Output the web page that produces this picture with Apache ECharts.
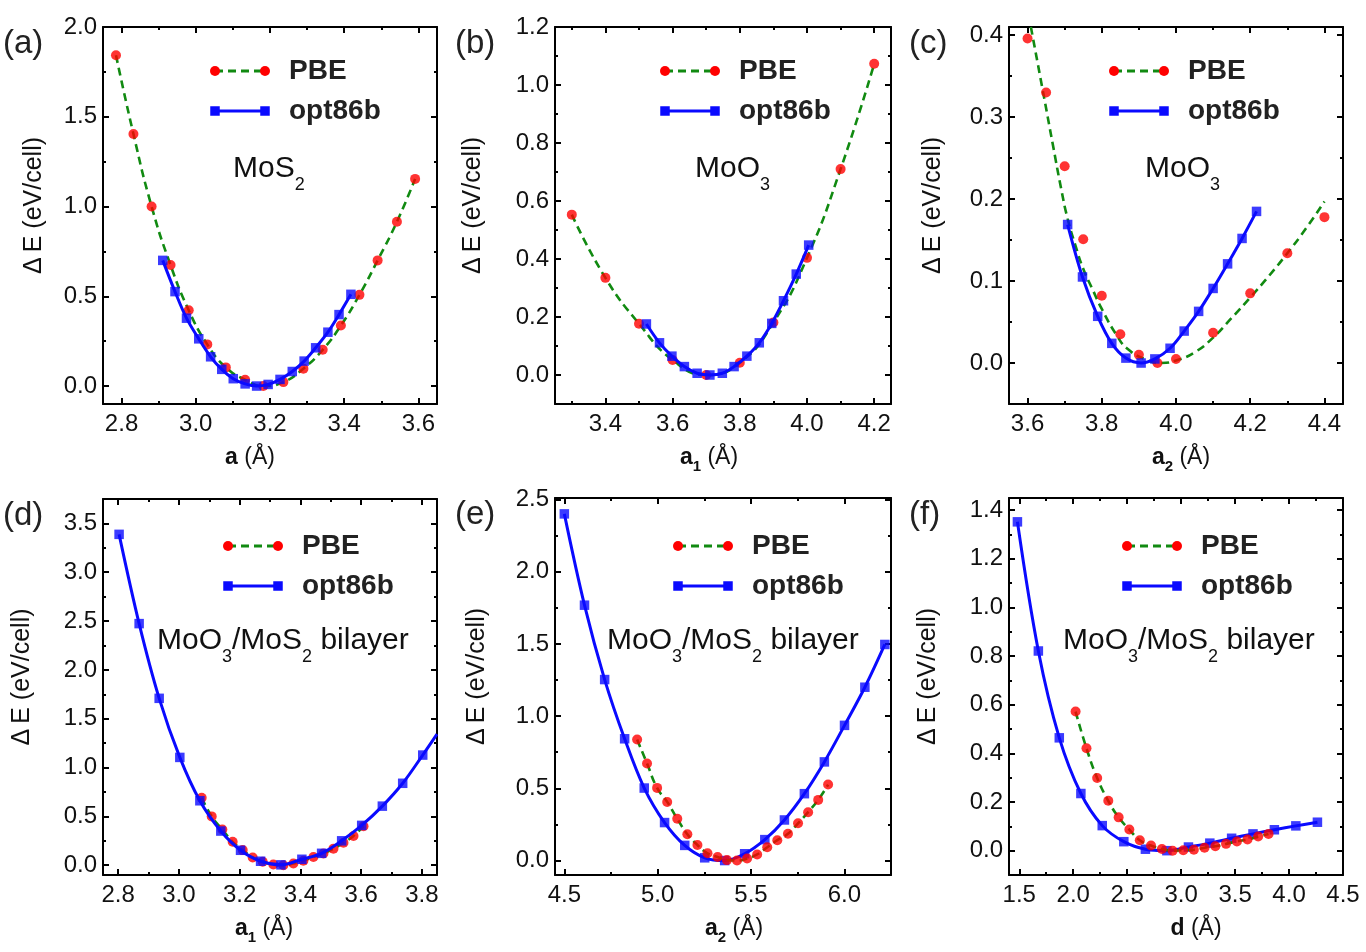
<!DOCTYPE html>
<html>
<head>
<meta charset="utf-8">
<script src="https://cdn.jsdelivr.net/npm/echarts@6/dist/echarts.min.js"></script>
<style>
  html, body { margin: 0; padding: 0; background: #fff; }
  #chart { width: 1366px; height: 952px; }
</style>
</head>
<body>
<div id="chart"></div>
<script>
// values

// (a) MoS2, lattice a
const aPbeX = [2.785, 2.832, 2.881, 2.932, 2.981, 3.031, 3.081, 3.133, 3.182, 3.236, 3.290, 3.342, 3.391, 3.441, 3.490, 3.542, 3.591];
const aPbeY = [1.843, 1.404, 1.0, 0.674, 0.422, 0.232, 0.104, 0.035, 0.0, 0.022, 0.097, 0.202, 0.337, 0.508, 0.70, 0.915, 1.154];
const aOptX = [2.911, 2.944, 2.975, 3.008, 3.04, 3.07, 3.101, 3.133, 3.164, 3.195, 3.227, 3.26, 3.292, 3.323, 3.356, 3.386, 3.418];
const aOptY = [0.70, 0.526, 0.378, 0.263, 0.163, 0.093, 0.041, 0.012, 0.0, 0.009, 0.037, 0.081, 0.139, 0.213, 0.30, 0.398, 0.511];

// (b) MoO3, a1
const bPbeX = [3.30, 3.40, 3.50, 3.60, 3.70, 3.80, 3.90, 4.00, 4.10, 4.20];
const bPbeY = [0.553, 0.335, 0.177, 0.052, 0.0, 0.042, 0.181, 0.404, 0.71, 1.073];
const bOptX = [3.522, 3.561, 3.598, 3.635, 3.673, 3.711, 3.748, 3.783, 3.821, 3.858, 3.895, 3.930, 3.968, 4.005];
const bOptY = [0.176, 0.111, 0.065, 0.029, 0.006, 0.0, 0.006, 0.029, 0.065, 0.111, 0.178, 0.256, 0.348, 0.448];

// (c) MoO3, a2  (dashed PBE fit does not run through the dots here)
const cPbeX = [3.60, 3.65, 3.70, 3.75, 3.80, 3.85, 3.90, 3.95, 4.00, 4.10, 4.20, 4.30, 4.40];
const cPbeY = [0.396, 0.330, 0.240, 0.151, 0.082, 0.035, 0.010, 0.0, 0.005, 0.037, 0.085, 0.134, 0.178];
const cFitX = [3.609, 3.64, 3.67, 3.69, 3.708, 3.73, 3.75, 3.775, 3.80, 3.84, 3.87, 3.92, 3.96, 4.00, 4.05, 4.10, 4.15, 4.20, 4.25, 4.30, 4.35, 4.40];
const cFitY = [0.41, 0.335, 0.262, 0.214, 0.176, 0.142, 0.115, 0.09, 0.066, 0.034, 0.017, 0.004, 0.0, 0.003, 0.013, 0.031, 0.055, 0.08, 0.106, 0.134, 0.164, 0.197];
const cOptX = [3.708, 3.748, 3.789, 3.827, 3.865, 3.906, 3.943, 3.984, 4.022, 4.061, 4.10, 4.139, 4.178, 4.217];
const cOptY = [0.169, 0.105, 0.057, 0.024, 0.006, 0.0, 0.005, 0.018, 0.039, 0.063, 0.091, 0.121, 0.152, 0.185];

// (d) bilayer, a1
const dPbeX = [3.075, 3.108, 3.143, 3.177, 3.21, 3.243, 3.276, 3.311, 3.344, 3.377, 3.41, 3.443, 3.476, 3.509, 3.542, 3.575, 3.608];
const dPbeY = [0.69, 0.50, 0.365, 0.24, 0.155, 0.08, 0.035, 0.008, 0.0, 0.017, 0.045, 0.085, 0.12, 0.17, 0.23, 0.30, 0.40];
const dOptX = [2.803, 2.869, 2.935, 3.003, 3.069, 3.138, 3.203, 3.269, 3.336, 3.405, 3.47, 3.536, 3.602, 3.67, 3.737, 3.803];
const dOptY = [3.388, 2.474, 1.709, 1.104, 0.66, 0.35, 0.153, 0.041, 0.004, 0.061, 0.122, 0.25, 0.408, 0.605, 0.839, 1.128];
const dOptFitX = [...dOptX, 3.85];
const dOptFitY = [...dOptY, 1.342];

// (e) bilayer, a2
const ePbeX = [4.89, 4.943, 4.997, 5.051, 5.105, 5.159, 5.213, 5.267, 5.321, 5.371, 5.425, 5.479, 5.533, 5.587, 5.641, 5.698, 5.752, 5.806, 5.86, 5.913];
const ePbeY = [0.838, 0.672, 0.503, 0.406, 0.289, 0.182, 0.108, 0.05, 0.025, 0.003, 0.0, 0.014, 0.042, 0.092, 0.141, 0.185, 0.258, 0.335, 0.42, 0.526];
const eOptX = [4.50, 4.608, 4.716, 4.823, 4.928, 5.037, 5.145, 5.252, 5.359, 5.466, 5.574, 5.679, 5.786, 5.893, 6.001, 6.11, 6.217];
const eOptY = [2.40, 1.768, 1.253, 0.843, 0.502, 0.263, 0.105, 0.019, 0.0, 0.047, 0.145, 0.281, 0.463, 0.683, 0.936, 1.20, 1.496];

// (f) bilayer, interlayer distance d
const fPbeX = [2.022, 2.123, 2.222, 2.325, 2.421, 2.52, 2.617, 2.721, 2.822, 2.921, 3.02, 3.118, 3.217, 3.317, 3.416, 3.517, 3.615, 3.714, 3.81];
const fPbeY = [0.572, 0.421, 0.299, 0.205, 0.137, 0.087, 0.043, 0.021, 0.007, 0.0, 0.002, 0.004, 0.012, 0.018, 0.028, 0.038, 0.046, 0.058, 0.069];
const fOptX = [1.483, 1.677, 1.871, 2.071, 2.269, 2.469, 2.669, 2.868, 3.068, 3.266, 3.468, 3.666, 3.864, 4.063, 4.263];
const fOptY = [1.352, 0.821, 0.464, 0.235, 0.103, 0.037, 0.006, 0.0, 0.015, 0.031, 0.051, 0.069, 0.086, 0.102, 0.117];

// tick labels / minor tick positions
const aXTicks = [2.8, 3.0, 3.2, 3.4, 3.6];
const aXMinor = [2.9, 3.1, 3.3, 3.5];
const aYTicks = [0.0, 0.5, 1.0, 1.5, 2.0];
const aYMinor = [0.25, 0.75, 1.25, 1.75];
const bXTicks = [3.4, 3.6, 3.8, 4.0, 4.2];
const bXMinor = [3.3, 3.5, 3.7, 3.9, 4.1];
const bYTicks = [0.0, 0.2, 0.4, 0.6, 0.8, 1.0, 1.2];
const bYMinor = [0.1, 0.3, 0.5, 0.7, 0.9, 1.1];
const cXTicks = [3.6, 3.8, 4.0, 4.2, 4.4];
const cXMinor = [3.7, 3.9, 4.1, 4.3];
const cYTicks = [0.0, 0.1, 0.2, 0.3, 0.4];
const cYMinor = [0.05, 0.15, 0.25, 0.35];
const dXTicks = [2.8, 3.0, 3.2, 3.4, 3.6, 3.8];
const dXMinor = [2.9, 3.1, 3.3, 3.5, 3.7];
const dYTicks = [0.0, 0.5, 1.0, 1.5, 2.0, 2.5, 3.0, 3.5];
const dYMinor = [0.25, 0.75, 1.25, 1.75, 2.25, 2.75, 3.25, 3.75];
const eXTicks = [4.5, 5.0, 5.5, 6.0];
const eXMinor = [4.75, 5.25, 5.75];
const eYTicks = [0.0, 0.5, 1.0, 1.5, 2.0, 2.5];
const eYMinor = [0.25, 0.75, 1.25, 1.75, 2.25];
const fXTicks = [1.5, 2.0, 2.5, 3.0, 3.5, 4.0, 4.5];
const fXMinor = [1.75, 2.25, 2.75, 3.25, 3.75, 4.25];
const fYTicks = [0.0, 0.2, 0.4, 0.6, 0.8, 1.0, 1.2, 1.4];
const fYMinor = [0.1, 0.3, 0.5, 0.7, 0.9, 1.1, 1.3];

const FONT = '"Liberation Sans", Arial, Helvetica, sans-serif';
const INK = '#111';
const RED = '#ff0000';
const GREEN = '#118a11';
const BLUE = '#0a0aff';

const panels = [
  { tag: '(a)', box: [103, 27, 334, 377], xr: [2.75, 3.65], yr: [-0.1, 2.0],
    xt: aXTicks, xm: aXMinor, yt: aYTicks, ym: aYMinor,
    pbe: [aPbeX, aPbeY], pbeFit: [aPbeX, aPbeY], opt: [aOptX, aOptY], optFit: [aOptX, aOptY],
    xName: '{b|a}{t| (Å)}', xShift: -20, yGap: 56, legend: [215, 71],
    note: '{m|MoS}{s|2}', noteAt: [233, 154], optTop: true },
  { tag: '(b)', box: [555, 27, 336, 377], xr: [3.25, 4.25], yr: [-0.1, 1.2],
    xt: bXTicks, xm: bXMinor, yt: bYTicks, ym: bYMinor,
    pbe: [bPbeX, bPbeY], pbeFit: [bPbeX, bPbeY], opt: [bOptX, bOptY], optFit: [bOptX, bOptY],
    xName: '{b|a}{bs|1}{t| (Å)}', xShift: -14, yGap: 69, legend: [665, 71],
    note: '{m|MoO}{s|3}', noteAt: [695, 154], optTop: true },
  { tag: '(c)', box: [1009, 27, 334, 377], xr: [3.55, 4.45], yr: [-0.05, 0.41],
    xt: cXTicks, xm: cXMinor, yt: cYTicks, ym: cYMinor,
    pbe: [cPbeX, cPbeY], pbeFit: [cFitX, cFitY], opt: [cOptX, cOptY], optFit: [cOptX, cOptY],
    xName: '{b|a}{bs|2}{t| (Å)}', xShift: 5, yGap: 63, legend: [1114, 71],
    note: '{m|MoO}{s|3}', noteAt: [1145, 154], optTop: true },
  { tag: '(d)', box: [103, 499, 334, 376], xr: [2.75, 3.85], yr: [-0.1, 3.75],
    xt: dXTicks, xm: dXMinor, yt: dYTicks, ym: dYMinor,
    pbe: [dPbeX, dPbeY], pbeFit: [dPbeX, dPbeY], opt: [dOptX, dOptY], optFit: [dOptFitX, dOptFitY],
    xName: '{b|a}{bs|1}{t| (Å)}', xShift: -6, yGap: 68, legend: [228, 546],
    note: '{m|MoO}{s|3}{m|/MoS}{s|2}{m| bilayer}', noteAt: [157, 626], optTop: true },
  { tag: '(e)', box: [555, 498, 336, 377], xr: [4.45, 6.25], yr: [-0.1, 2.51],
    xt: eXTicks, xm: eXMinor, yt: eYTicks, ym: eYMinor,
    pbe: [ePbeX, ePbeY], pbeFit: [ePbeX, ePbeY], opt: [eOptX, eOptY], optFit: [eOptX, eOptY],
    xName: '{b|a}{bs|2}{t| (Å)}', xShift: 11, yGap: 65, legend: [678, 546],
    note: '{m|MoO}{s|3}{m|/MoS}{s|2}{m| bilayer}', noteAt: [607, 626], optTop: false },
  { tag: '(f)', box: [1009, 498, 334, 377], xr: [1.405, 4.5], yr: [-0.1, 1.45],
    xt: fXTicks, xm: fXMinor, yt: fYTicks, ym: fYMinor,
    pbe: [fPbeX, fPbeY], pbeFit: [fPbeX, fPbeY], opt: [fOptX, fOptY], optFit: [fOptX, fOptY],
    xName: '{b|d}{t| (Å)}', xShift: 20, yGap: 68, legend: [1127, 546],
    note: '{m|MoO}{s|3}{m|/MoS}{s|2}{m| bilayer}', noteAt: [1063, 626], optTop: false }
];

const pairs = (xs, ys) => xs.map((x, i) => [x, ys[i]]);
const fmt = v => Number(v).toFixed(1);

const grids = [], xAxes = [], yAxes = [], series = [], graphics = [];

function makeAxis(kind, g, pos, range, ticks, opts) {
  const major = opts.major;
  const ax = {
    type: 'value', gridIndex: g, position: pos, min: range[0], max: range[1],
    splitLine: { show: false },
    axisLine: { show: major, onZero: false, lineStyle: { color: '#000', width: 2 } },
    axisTick: { show: true, inside: true, length: major ? 6 : 3, customValues: ticks,
                lineStyle: { color: '#000', width: 2 } },
    axisLabel: { show: !!opts.labels, customValues: ticks, formatter: fmt,
                 margin: kind === 'x' ? 8 : 6, fontSize: 24, fontFamily: FONT, color: INK },
    axisPointer: { show: false }
  };
  if (opts.name) Object.assign(ax, opts.name);
  return ax;
}

panels.forEach((p, g) => {
  grids.push({ left: p.box[0], top: p.box[1], width: p.box[2], height: p.box[3],
               containLabel: false, outerBoundsMode: 'none' });

  const pad = p.xShift < 0 ? [0, -2 * p.xShift, 0, 0] : [0, 0, 0, 2 * p.xShift];
  const xName = {
    name: p.xName, nameLocation: 'middle', nameGap: 42,
    nameTextStyle: {
      padding: pad,
      rich: {
        b: { fontFamily: FONT, fontWeight: 'bold', fontSize: 23, color: INK, verticalAlign: 'top' },
        bs: { fontFamily: FONT, fontWeight: 'bold', fontSize: 15, color: INK, verticalAlign: 'top', padding: [13, 0, 0, 0] },
        t: { fontFamily: FONT, fontSize: 23, color: INK, verticalAlign: 'top' }
      }
    }
  };
  const yName = {
    name: 'Δ\u2009E (eV/cell)', nameLocation: 'middle', nameGap: p.yGap, nameRotate: 90,
    nameTextStyle: { fontFamily: FONT, fontSize: 25, color: INK, padding: [0, 0, 0, 20] }
  };

  xAxes.push(makeAxis('x', g, 'bottom', p.xr, p.xt, { major: true, labels: true, name: xName }));
  xAxes.push(makeAxis('x', g, 'top', p.xr, p.xt, { major: true }));
  xAxes.push(makeAxis('x', g, 'bottom', p.xr, p.xm, { major: false }));
  xAxes.push(makeAxis('x', g, 'top', p.xr, p.xm, { major: false }));
  yAxes.push(makeAxis('y', g, 'left', p.yr, p.yt, { major: true, labels: true, name: yName }));
  yAxes.push(makeAxis('y', g, 'right', p.yr, p.yt, { major: true }));
  yAxes.push(makeAxis('y', g, 'left', p.yr, p.ym, { major: false }));
  yAxes.push(makeAxis('y', g, 'right', p.yr, p.ym, { major: false }));

  const xi = g * 4, yi = g * 4;
  const zPbe = p.optTop ? 2 : 6;
  const zOpt = p.optTop ? 6 : 2;

  series.push({
    name: 'PBE', type: 'line', xAxisIndex: xi, yAxisIndex: yi,
    data: pairs(p.pbeFit[0], p.pbeFit[1]), smooth: 0.5,
    showSymbol: false, lineStyle: { color: GREEN, width: 2.6, type: [8, 5] }, z: zPbe, silent: true
  });
  series.push({
    name: 'PBE', type: 'scatter', xAxisIndex: xi, yAxisIndex: yi,
    data: pairs(p.pbe[0], p.pbe[1]), symbol: 'circle', symbolSize: 10,
    itemStyle: { color: RED }, z: zPbe + 1, silent: true
  });
  series.push({
    name: 'opt86b', type: 'line', xAxisIndex: xi, yAxisIndex: yi,
    data: pairs(p.optFit[0], p.optFit[1]), smooth: 0.35,
    showSymbol: false, lineStyle: { color: BLUE, width: 3 }, z: zOpt, silent: true
  });
  series.push({
    name: 'opt86b', type: 'scatter', xAxisIndex: xi, yAxisIndex: yi,
    data: pairs(p.opt[0], p.opt[1]), symbol: 'rect', symbolSize: 9.5,
    itemStyle: { color: BLUE }, z: zOpt + 1, silent: true
  });

  // panel letter
  graphics.push({
    type: 'text', x: p.box[0] - 100, y: p.box[1] + 17,
    style: { text: p.tag, fontFamily: FONT, fontSize: 33, fill: '#222',
             align: 'left', verticalAlign: 'middle', textAlign: 'left', textVerticalAlign: 'middle' }
  });

  // legend: symbol - line - symbol, then bold label
  const [lx, ly] = p.legend;
  graphics.push({ type: 'line', shape: { x1: lx, y1: ly, x2: lx + 50, y2: ly },
                  style: { stroke: GREEN, lineWidth: 3, lineDash: [8, 5] } });
  graphics.push({ type: 'circle', shape: { cx: lx, cy: ly, r: 5 }, style: { fill: RED } });
  graphics.push({ type: 'circle', shape: { cx: lx + 50, cy: ly, r: 5 }, style: { fill: RED } });
  graphics.push({ type: 'line', shape: { x1: lx, y1: ly + 40, x2: lx + 50, y2: ly + 40 },
                  style: { stroke: BLUE, lineWidth: 3 } });
  graphics.push({ type: 'rect', shape: { x: lx - 4.75, y: ly + 35.25, width: 9.5, height: 9.5 }, style: { fill: BLUE } });
  graphics.push({ type: 'rect', shape: { x: lx + 45.25, y: ly + 35.25, width: 9.5, height: 9.5 }, style: { fill: BLUE } });
  ['PBE', 'opt86b'].forEach((t, k) => {
    graphics.push({
      type: 'text', x: lx + 74, y: ly + 40 * k,
      style: { text: t, fontFamily: FONT, fontWeight: 'bold', fontSize: 28, fill: '#222',
               align: 'left', verticalAlign: 'middle', textAlign: 'left', textVerticalAlign: 'middle' }
    });
  });

  // compound label with subscripts
  graphics.push({
    type: 'text', x: p.noteAt[0], y: p.noteAt[1],
    style: {
      text: p.note, fill: INK, align: 'left', verticalAlign: 'top', textAlign: 'left', textVerticalAlign: 'top',
      rich: {
        m: { fontFamily: FONT, fontSize: 30, fill: INK, color: INK, verticalAlign: 'top' },
        s: { fontFamily: FONT, fontSize: 18, fill: INK, color: INK, verticalAlign: 'top', padding: [22, 0, 0, 0] }
      }
    }
  });
});

const chart = echarts.init(document.getElementById('chart'), null, { renderer: 'canvas' });
chart.setOption({
  backgroundColor: '#fff',
  animation: false,
  grid: grids,
  xAxis: xAxes,
  yAxis: yAxes,
  series: series,
  graphic: { elements: graphics }
});
</script>
</body>
</html>
